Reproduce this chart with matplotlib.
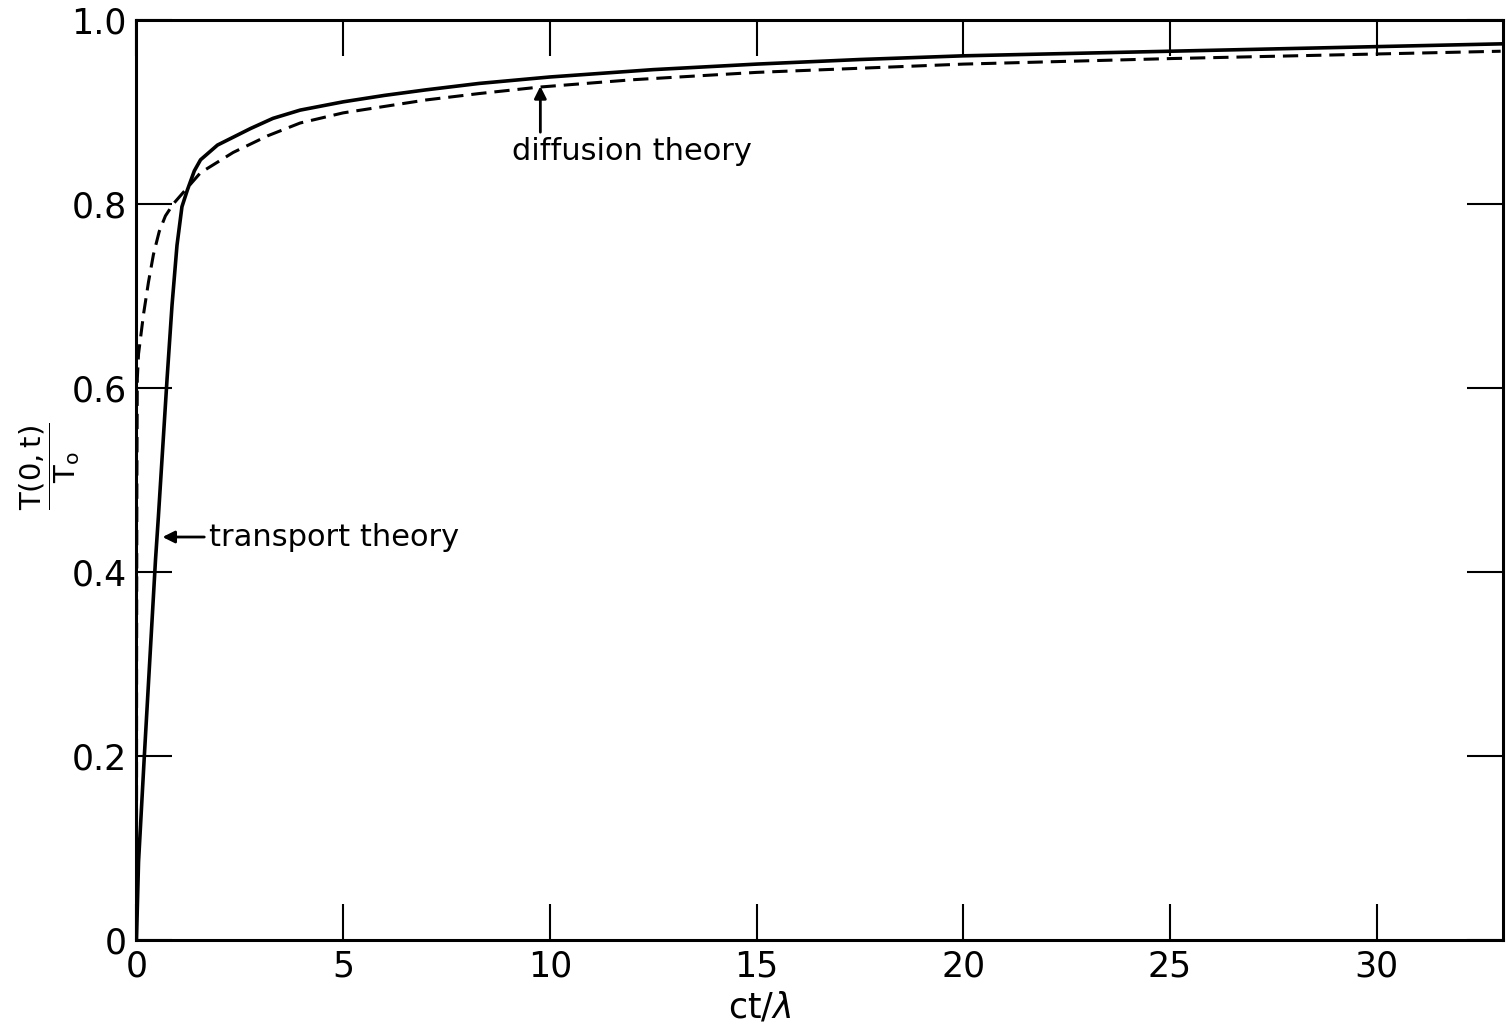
import matplotlib
matplotlib.use("Agg")
import matplotlib.pyplot as plt

# transport theory (solid)
x_transport = [0, 0.05, 0.19, 0.46, 0.53, 0.74, 0.86, 0.98, 1.1, 1.23, 1.4, 1.55,
               1.96, 2.76, 3.3, 3.96, 5, 6, 7, 8.29, 10, 12.5, 15, 17.5, 20, 25, 30, 33]
y_transport = [0, 0.085, 0.2, 0.413, 0.46, 0.61, 0.69, 0.755, 0.797, 0.815, 0.836, 0.848,
               0.864, 0.882, 0.893, 0.902, 0.911, 0.918, 0.924, 0.931, 0.938, 0.946, 0.952,
               0.957, 0.961, 0.966, 0.971, 0.974]

# diffusion theory (dashed)
x_diffusion = [0, 0.003, 0.01, 0.02, 0.05, 0.17, 0.29, 0.41, 0.55, 0.7, 0.89, 1.18, 1.55,
               2.34, 3.17, 3.96, 5, 6, 7, 8.29, 9.74, 12, 15, 20, 25, 30, 33]
y_diffusion = [0, 0.3, 0.5, 0.61, 0.637, 0.68, 0.715, 0.745, 0.77, 0.787, 0.8, 0.815, 0.834,
               0.856, 0.874, 0.888, 0.899, 0.906, 0.913, 0.920, 0.927, 0.935, 0.943,
               0.952, 0.958, 0.963, 0.966]

x_ticks = [0, 5, 10, 15, 20, 25, 30]
y_ticks = [0, 0.2, 0.4, 0.6, 0.8, 1.0]
y_labels = ['0', '0.2', '0.4', '0.6', '0.8', '1.0']

plt.rcParams['font.family'] = 'DejaVu Sans'
plt.rcParams['mathtext.fontset'] = 'dejavusans'

fig = plt.figure(figsize=(15.08, 10.28), dpi=100)
ax = fig.add_axes([0.0905, 0.0856, 0.906, 0.895])

ax.plot(x_transport, y_transport, color='black', lw=2.6, solid_joinstyle='round')
ax.plot(x_diffusion, y_diffusion, color='black', lw=2.2, dashes=(5, 2.6))

ax.set_xlim(0, 33.05)
ax.set_ylim(0, 1.0)
ax.set_xticks(x_ticks)
ax.set_xticklabels([str(v) for v in x_ticks])
ax.set_yticks(y_ticks)
ax.set_yticklabels(y_labels)

ax.tick_params(direction='in', length=26, width=1.5, labelsize=25, pad=7,
               top=True, right=True)
for s in ax.spines.values():
    s.set_linewidth(2.2)

ax.set_xlabel(r'ct/$\lambda$', fontsize=25)
ax.xaxis.set_label_coords(0.456, -0.055)
ax.set_ylabel(r'$\dfrac{\mathrm{T(0,t)}}{\mathrm{T_o}}$', fontsize=21)
ax.yaxis.set_label_coords(-0.040, 0.515)

# labels with arrows
ax.annotate('', xy=(0.63, 0.438), xytext=(1.64, 0.438),
            arrowprops=dict(arrowstyle='-|>', color='black', lw=2,
                            mutation_scale=18, shrinkA=0, shrinkB=0))
ax.text(1.76, 0.438, 'transport theory', fontsize=22, va='center', ha='left')

ax.annotate('', xy=(9.77, 0.928), xytext=(9.77, 0.878),
            arrowprops=dict(arrowstyle='-|>', color='black', lw=2,
                            mutation_scale=18, shrinkA=0, shrinkB=0))
ax.text(9.09, 0.857, 'diffusion theory', fontsize=22, va='center', ha='left')

fig.savefig('out.png', dpi=100)
